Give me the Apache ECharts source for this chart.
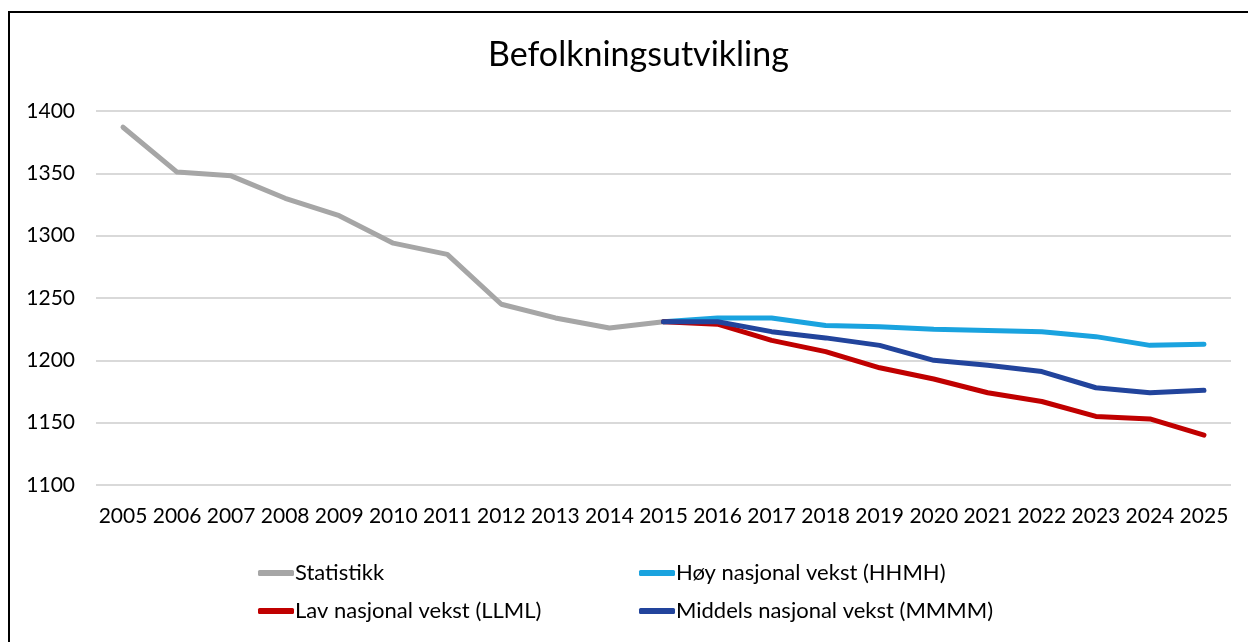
<!DOCTYPE html>
<html><head><meta charset="utf-8">
<script src="https://cdn.jsdelivr.net/npm/echarts@6/dist/echarts.min.js"></script>
<style>html,body{margin:0;padding:0;background:#fff}#c{width:1248px;height:642px}</style>
</head><body><div id="c"></div>
<script>
const years = ['2005','2006','2007','2008','2009','2010','2011','2012','2013','2014','2015','2016','2017','2018','2019','2020','2021','2022','2023','2024','2025'];
const statistikk = [1387,1351,1348,1330,1316,1294,1285,1245,1234,1226,1231,null,null,null,null,null,null,null,null,null,null];
const hoy =     [null,null,null,null,null,null,null,null,null,null,1231,1234,1234,1228,1227,1225,1224,1223,1219,1212,1213];
const lav =     [null,null,null,null,null,null,null,null,null,null,1231,1229,1216,1207,1194,1185,1174,1167,1155,1153,1140];
const middels = [null,null,null,null,null,null,null,null,null,null,1231,1231,1223,1218,1212,1200,1196,1191,1178,1174,1176];
const yTicks = {min:1100, max:1400, interval:50};

const FONT = 'Lato';
const chart = echarts.init(document.getElementById('c'));
const mk = (name, data, color) => ({
  name, type:'line', data, symbol:'none', connectNulls:false,
  lineStyle:{color, width:5, cap:'round', join:'round'}, itemStyle:{color},
  emphasis:{disabled:true}
});
chart.setOption({
  animation:false,
  backgroundColor:'#fff',
  title:{text:'Befolkningsutvikling', left:483, top:33,
    textStyle:{fontFamily:FONT, fontWeight:'normal', fontSize:34, color:'#000'}},
  graphic:[{type:'rect', shape:{x:9, y:12, width:1300, height:700},
    style:{fill:'none', stroke:'#000', lineWidth:2}, silent:true}],
  grid:{left:96, right:17, top:111, bottom:157, containLabel:false},
  xAxis:{type:'category', data:years, boundaryGap:true,
    axisLine:{show:false}, axisTick:{show:false},
    axisLabel:{interval:0, margin:21, fontFamily:FONT, fontSize:21, color:'#000'}},
  yAxis:{type:'value', min:yTicks.min, max:yTicks.max, interval:yTicks.interval,
    axisLine:{show:false}, axisTick:{show:false},
    splitLine:{lineStyle:{color:'#d9d9d9', width:2}},
    axisLabel:{margin:21, fontFamily:FONT, fontSize:21, color:'#000', formatter:v => String(v)}},
  legend:[
    {orient:'vertical', left:253, top:557, itemGap:16, itemWidth:36, itemHeight:6, icon:'roundRect',
     data:['Statistikk','Lav nasjonal vekst (LLML)'],
     textStyle:{fontFamily:FONT, fontSize:22, color:'#000', padding:[0,0,0,-4]}},
    {orient:'vertical', left:634, top:557, itemGap:16, itemWidth:36, itemHeight:6, icon:'roundRect',
     data:['Høy nasjonal vekst (HHMH)','Middels nasjonal vekst (MMMM)'],
     textStyle:{fontFamily:FONT, fontSize:22, color:'#000', padding:[0,0,0,-4]}}
  ],
  series:[
    mk('Statistikk', statistikk, '#a6a6a6'),
    mk('Høy nasjonal vekst (HHMH)', hoy, '#1aa3df'),
    mk('Lav nasjonal vekst (LLML)', lav, '#c00000'),
    mk('Middels nasjonal vekst (MMMM)', middels, '#22449c')
  ]
});
</script></body></html>
